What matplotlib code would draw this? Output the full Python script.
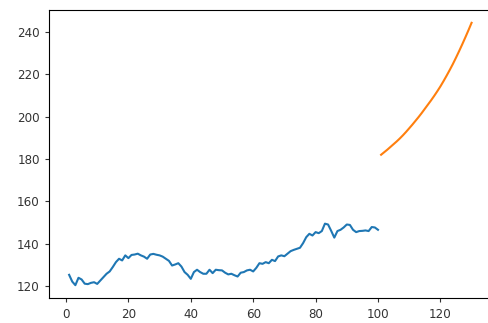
import numpy as np
import matplotlib
matplotlib.use('Agg')
import matplotlib.pyplot as plt

# ── Data ─────────────────────────────────────────────────────────────────────
hist_x = list(range(1, 101))
hist_y = [
    125.2, 122.0, 120.3, 123.8, 123.0, 121.0, 120.8, 121.4, 121.7, 120.9,
    122.5, 124.1, 125.7, 126.8, 128.9, 131.2, 132.8, 132.0, 134.4, 133.1,
    134.6, 134.8, 135.2, 134.4, 133.8, 132.8, 134.8, 135.1, 134.7, 134.4,
    133.8, 132.8, 131.8, 129.6, 130.1, 130.7, 129.1, 126.5, 125.2, 123.3,
    126.5, 127.6, 126.5, 125.7, 125.7, 127.6, 126.0, 127.6, 127.4, 127.3,
    126.2, 125.4, 125.7, 125.0, 124.4, 126.2, 126.5, 127.3, 127.6, 126.8,
    128.5, 130.7, 130.4, 131.2, 130.7, 132.3, 131.7, 133.9, 134.4, 134.0,
    135.2, 136.4, 137.0, 137.5, 138.0, 140.2, 143.0, 144.6, 143.8, 145.4,
    144.9, 145.9, 149.4, 149.0, 146.0, 142.8, 145.9, 146.5, 147.6, 149.0,
    148.8, 146.5, 145.4, 145.9, 146.0, 146.2, 145.9, 147.8, 147.6, 146.5,
]

pred_x = list(range(101, 131))
pred_y = [
    182.0, 183.2, 184.4, 185.7, 187.0, 188.3, 189.7, 191.2, 192.8, 194.5,
    196.2, 198.0, 199.8, 201.7, 203.7, 205.7, 207.7, 209.8, 212.0, 214.3,
    216.8, 219.4, 222.1, 224.9, 227.9, 231.0, 234.2, 237.5, 240.9, 244.4,
]

# ── Figure ───────────────────────────────────────────────────────────────────
fig = plt.figure(figsize=(4.88, 3.23), dpi=100)
ax = fig.add_axes([49 / 488, 24.7 / 323, 442.7 / 488, 288.6 / 323])

ax.plot(hist_x, hist_y, color='#1f77b4', lw=1.5)
ax.plot(pred_x, pred_y, color='#ff7f0e', lw=1.5)

# right spine sits just past the crop in the reference
ax.spines['right'].set_visible(False)

ax.set_xticks([0, 20, 40, 60, 80, 100, 120])
ax.set_yticks([120, 140, 160, 180, 200, 220, 240])
ax.tick_params(labelsize=8.6, length=3.2, colors='#333333')

fig.savefig('out.png', dpi=100)
